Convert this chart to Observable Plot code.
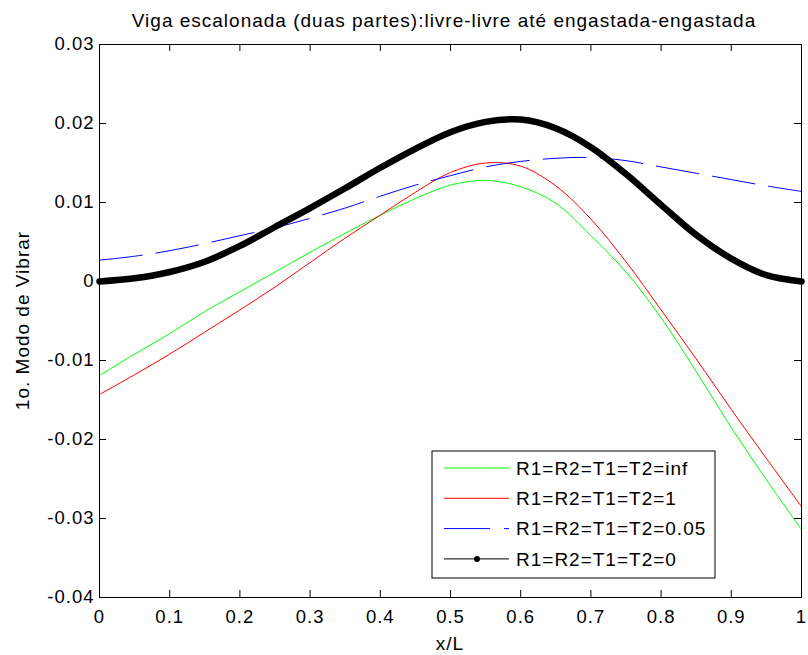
<!DOCTYPE html>
<html><head><meta charset="utf-8">
<script src="https://cdn.jsdelivr.net/npm/d3@7"></script>
<script src="https://cdn.jsdelivr.net/npm/@observablehq/plot@0.6"></script>
<style>body{margin:0;background:#fff;} #chart svg{display:block;}</style>
</head><body><div id="chart"></div>
<script>
const xPos = [0,0.05,0.1,0.15,0.2,0.25,0.3,0.35,0.4,0.45,0.5,0.55,0.6,0.65,0.7,0.75,0.8,0.85,0.9,0.95,1];
const greenInf = [-0.0119,-0.0092,-0.0066,-0.0038,-0.0013,0.0012,0.0037,0.0061,0.0084,0.0105,0.0122,0.0128,0.0120,0.0099,0.0058,0.0012,-0.0046,-0.0114,-0.0185,-0.0251,-0.0314];
const red1 = [-0.0143,-0.0118,-0.0092,-0.0064,-0.0036,-0.0007,0.0024,0.0055,0.0084,0.0113,0.0138,0.0150,0.0146,0.0121,0.0079,0.0025,-0.0036,-0.0098,-0.0162,-0.0224,-0.0285];
const blue005 = [0.0027,0.0032,0.0039,0.0048,0.0058,0.0068,0.0080,0.0093,0.0108,0.0122,0.0134,0.0145,0.0152,0.0156,0.0157,0.0153,0.0145,0.0137,0.0129,0.0121,0.0114];
const black0 = [0,0.0004,0.0012,0.0025,0.0045,0.0069,0.0093,0.0118,0.0144,0.0168,0.0189,0.0202,0.0205,0.0194,0.0170,0.0136,0.0097,0.0059,0.0029,0.0008,0];
const seriesNames = ["R1=R2=T1=T2=inf","R1=R2=T1=T2=1","R1=R2=T1=T2=0.05","R1=R2=T1=T2=0"];
const seriesColors = ["#00ff00","#ff0000","#0000ff","#000000"];
const xTicks = [0,0.1,0.2,0.3,0.4,0.5,0.6,0.7,0.8,0.9,1];
const xTickLabels = ["0","0.1","0.2","0.3","0.4","0.5","0.6","0.7","0.8","0.9","1"];
const yTicks = [-0.04,-0.03,-0.02,-0.01,0,0.01,0.02,0.03];
const yTickLabels = ["-0.04","-0.03","-0.02","-0.01","0","0.01","0.02","0.03"];
const titleText = "Viga escalonada (duas partes):livre-livre até engastada-engastada";
const xLabelText = "x/L";
const yLabelText = "1o. Modo de Vibrar";

const W = 808, H = 655, mL = 99, mR = 7, mT = 44, mB = 58;
const plotW = W - mL - mR, plotH = H - mT - mB, tickLen = 7;
const font = "'Liberation Sans', Arial, Helvetica, sans-serif";
const rows = ys => xPos.map((x, i) => ({x, y: ys[i]}));

const chart = Plot.plot({
  width: W, height: H,
  marginLeft: mL, marginRight: mR, marginTop: mT, marginBottom: mB,
  style: {fontFamily: font, fontSize: "18.5px", background: "#fff", color: "#000", letterSpacing: "1px"},
  x: {domain: [0, 1]},
  y: {domain: [-0.04, 0.03]},
  marks: [
    Plot.line(rows(greenInf), {x: "x", y: "y", stroke: seriesColors[0], strokeWidth: 1, curve: "catmull-rom"}),
    Plot.line(rows(red1), {x: "x", y: "y", stroke: seriesColors[1], strokeWidth: 1, curve: "catmull-rom"}),
    Plot.line(rows(blue005), {x: "x", y: "y", stroke: seriesColors[2], strokeWidth: 1, strokeDasharray: "43,14", curve: "catmull-rom"}),
    Plot.line(rows(black0), {x: "x", y: "y", stroke: seriesColors[3], strokeWidth: 6.5, strokeLinecap: "round", strokeLinejoin: "round", curve: "catmull-rom"}),
    Plot.frame({stroke: "#000", strokeWidth: 1}),
    Plot.tickX(xTicks, {x: d => d, insetTop: plotH - tickLen, stroke: "#000"}),
    Plot.tickX(xTicks, {x: d => d, insetBottom: plotH - tickLen, stroke: "#000"}),
    Plot.tickY(yTicks, {y: d => d, insetRight: plotW - tickLen, stroke: "#000"}),
    Plot.tickY(yTicks, {y: d => d, insetLeft: plotW - tickLen, stroke: "#000"}),
    Plot.axisX(xTicks, {tickSize: 0, tickPadding: 12, fontSize: 18.5, label: null, tickFormat: d => xTickLabels[xTicks.indexOf(d)]}),
    Plot.axisY(yTicks, {tickSize: 0, tickPadding: 5, fontSize: 18.5, label: null, tickFormat: d => yTickLabels[yTicks.indexOf(d)]})
  ]
});
document.getElementById("chart").appendChild(chart);

const svg = d3.select(chart);
const txt = svg.append("g").attr("font-family", font).attr("fill", "#000").attr("letter-spacing", "1px");
txt.append("text").attr("x", mL + plotW / 2 - 6).attr("y", 27).attr("text-anchor", "middle").attr("font-size", 19).text(titleText);
txt.append("text").attr("x", mL + plotW / 2).attr("y", 650).attr("text-anchor", "middle").attr("font-size", 19).text(xLabelText);
txt.append("text").attr("transform", `translate(29,${mT + plotH / 2}) rotate(-90)`).attr("text-anchor", "middle").attr("font-size", 19).text(yLabelText);

// legend
const lg = svg.append("g").attr("font-family", font).attr("font-size", 19).attr("letter-spacing", "1px").attr("text-anchor", "start");
lg.append("rect").attr("x", 432).attr("y", 451).attr("width", 283).attr("height", 127).attr("fill", "#fff").attr("stroke", "#000").attr("stroke-width", 1);
const rowY = i => 468 + i * 30.3;
const items = lg.selectAll("g.item").data(seriesNames).join("g").attr("class", "item");
items.append("line").attr("x1", 444).attr("x2", 509).attr("y1", (d, i) => rowY(i)).attr("y2", (d, i) => rowY(i))
  .attr("stroke", (d, i) => seriesColors[i]).attr("stroke-width", 1)
  .attr("stroke-dasharray", (d, i) => i === 2 ? "46,14" : null);
items.filter((d, i) => i === 3).append("circle").attr("cx", 477).attr("cy", rowY(3)).attr("r", 3).attr("fill", "#000");
items.append("text").attr("x", 516).attr("y", (d, i) => rowY(i)).attr("dy", "0.35em").attr("text-anchor", "start").attr("fill", "#000").text(d => d);
</script>
</body></html>
